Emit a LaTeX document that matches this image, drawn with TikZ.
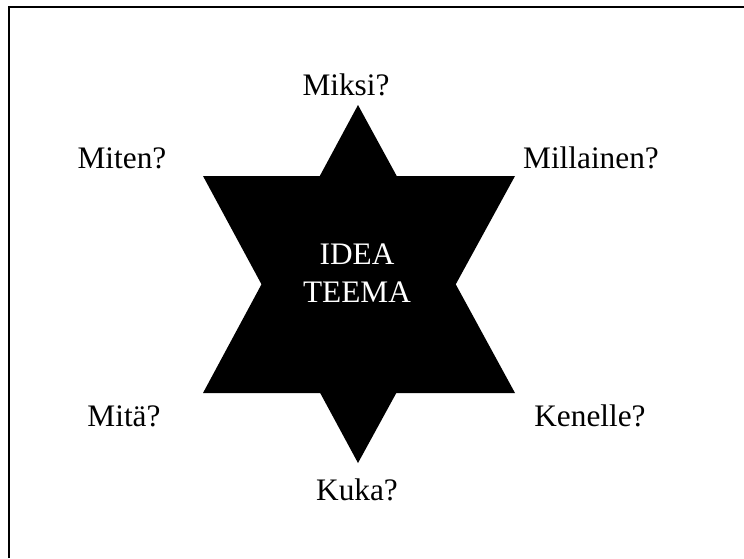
\documentclass[tikz,border=0pt]{standalone}
\usepackage{fontspec}
\setmainfont{Liberation Serif}
\usetikzlibrary{positioning, calc}

\begin{document}
\begin{tikzpicture}[x=1pt, y=-1pt,
        kys/.style={anchor=base, inner sep=0pt, font=\fontsize{31.3}{38}\selectfont},
        ydin/.style={kys, text=white, align=center},
        kehys/.style={line width=2pt, draw=black}
    ]
        \useasboundingbox (0,0) rectangle (744,558);
        \draw[kehys] (9,558) -- (9,7) -- (744,7);

        % tahti: kaksi kolmiota
        \coordinate (ylos) at (358,105);
        \coordinate (alas) at (358,463);
        \fill (ylos) -- (203,393) -- (515,393) -- cycle;
        \fill (alas) -- (203,176) -- (515,176) -- cycle;

        \node[ydin] (idea) at (357,264) {IDEA};
        \node[ydin] (teema) at (357,302) {TEEMA};

        \node[kys] (miksi) at (346,95) {Miksi?};
        \node[kys] (miten) at (122,168) {Miten?};
        \node[kys] (millainen) at (591,168) {Millainen?};
        \node[kys] (mita) at (124,426) {Mitä?};
        \node[kys] (kenelle) at (590,426) {Kenelle?};
        \node[kys] (kuka) at (357,500) {Kuka?};
    \end{tikzpicture}
\end{document}
